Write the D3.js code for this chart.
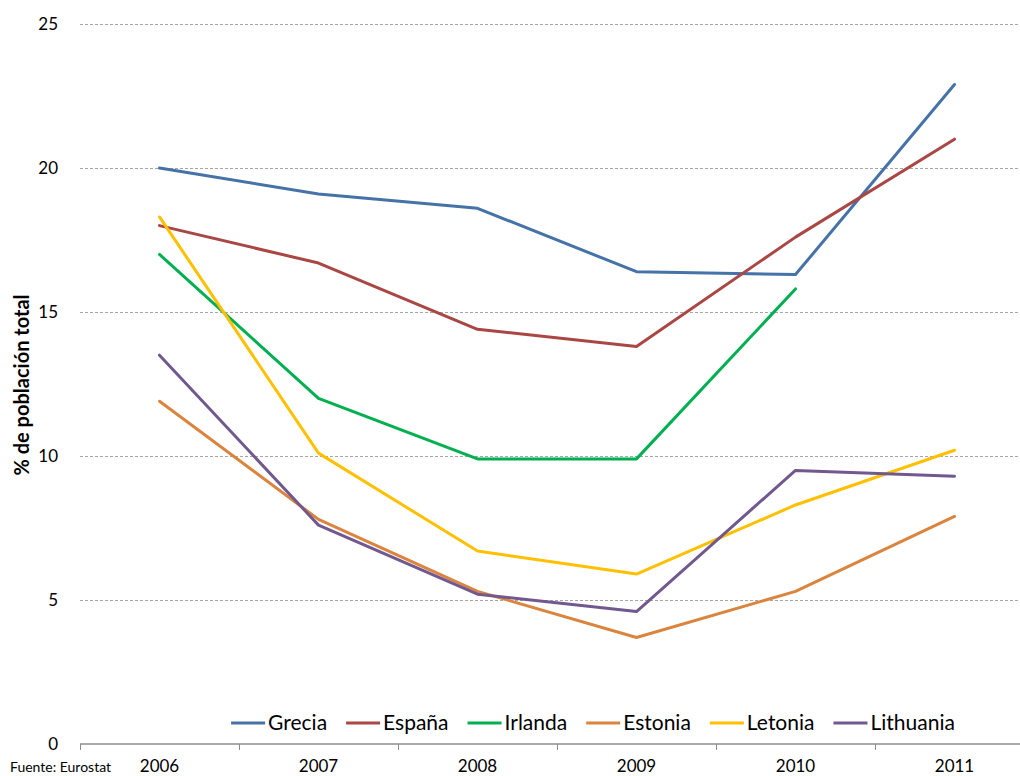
<!DOCTYPE html>
<html lang="es">
<head>
    <meta charset="UTF-8">
    <title>% de población total</title>
    <script src="https://d3js.org/d3.v7.min.js"></script>
    <style>
        body { margin: 0; background: white; font-family: Lato, "Open Sans", sans-serif; }
        svg text { fill: #000; }
    </style>
</head>
<body>
    <div id="chart"></div>
    <script>
        // Data
        const years = ["2006", "2007", "2008", "2009", "2010", "2011"];
        const countries = ["Grecia", "España", "Irlanda", "Estonia", "Letonia", "Lithuania"];
        const grecia    = [20.0, 19.1, 18.6, 16.4, 16.3, 22.9];
        const espana    = [18.0, 16.7, 14.4, 13.8, 17.6, 21.0];
        const irlanda   = [17.0, 12.0, 9.9, 9.9, 15.8, null];
        const estonia   = [11.9, 7.8, 5.3, 3.7, 5.3, 7.9];
        const letonia   = [18.3, 10.1, 6.7, 5.9, 8.3, 10.2];
        const lithuania = [13.5, 7.6, 5.2, 4.6, 9.5, 9.3];
        const yTicks = [0, 5, 10, 15, 20, 25];
        const colors = ["#4572A7", "#AA4643", "#00B050", "#DB843D", "#FFC000", "#71588F"];

        const series = [grecia, espana, irlanda, estonia, letonia, lithuania]
            .map((values, i) => ({ name: countries[i], color: colors[i], values }));

        // Configuration
        const width = 1020, height = 776;
        const svg = d3.select("#chart").append("svg")
            .attr("width", width)
            .attr("height", height);

        const x = d3.scaleBand()
            .domain(years)
            .range([80, 80 + 159 * years.length]);

        const y = d3.scaleLinear()
            .domain([0, 25])
            .range([744, 24]);

        // Gridlines
        svg.append("g")
            .selectAll("line")
            .data(yTicks.filter(d => d > 0))
            .enter().append("line")
            .attr("x1", 80).attr("x2", width)
            .attr("y1", d => y(d) + 0.5).attr("y2", d => y(d) + 0.5)
            .attr("stroke", "#a6a6a6")
            .attr("stroke-dasharray", "3,2");

        // Y axis labels
        const yAxis = svg.append("g")
            .attr("transform", "translate(60,0)")
            .call(d3.axisLeft(y).tickValues(yTicks).tickSize(0).tickPadding(2));
        yAxis.select(".domain").remove();
        yAxis.selectAll("text")
            .style("font-size", "17px")
            .style("font-family", "Lato, sans-serif")
            .attr("fill", "#000");

        // X axis
        const xAxis = svg.append("g")
            .attr("transform", "translate(0,744)")
            .call(d3.axisBottom(x).tickSize(0).tickPadding(16));
        xAxis.select(".domain").remove();
        xAxis.selectAll("text")
            .style("font-size", "17px")
            .style("font-family", "Lato, sans-serif")
            .attr("fill", "#000");

        svg.append("line")
            .attr("x1", 80).attr("x2", width)
            .attr("y1", 744).attr("y2", 744)
            .attr("stroke", "#8c8c8c")
            .attr("stroke-width", 1.5);

        svg.append("g")
            .selectAll("line")
            .data(years.map(d => x(d)).concat([x.range()[1]]))
            .enter().append("line")
            .attr("x1", d => d + 0.5).attr("x2", d => d + 0.5)
            .attr("y1", 744).attr("y2", 750)
            .attr("stroke", "#8c8c8c");

        // Lines
        const line = d3.line()
            .defined(d => d !== null)
            .x((d, i) => x(years[i]) + x.bandwidth() / 2)
            .y(d => y(d));

        svg.append("g")
            .selectAll("path")
            .data(series)
            .enter().append("path")
            .attr("d", d => line(d.values))
            .attr("fill", "none")
            .attr("stroke", d => d.color)
            .attr("stroke-width", 3)
            .attr("stroke-linejoin", "round")
            .attr("stroke-linecap", "round");

        // Y axis title
        svg.append("text")
            .attr("transform", "translate(29,385) rotate(-90)")
            .attr("text-anchor", "middle")
            .style("font-size", "20px")
            .style("font-weight", "bold")
            .style("font-family", "Lato, sans-serif")
            .text("% de población total");

        // Source
        svg.append("text")
            .attr("x", 10).attr("y", 772)
            .style("font-size", "14px")
            .style("font-family", "Lato, sans-serif")
            .text("Fuente: Eurostat");

        // Legend
        const legend = svg.append("g").attr("transform", "translate(0,723)");
        let lx = 0;
        series.forEach(s => {
            const item = legend.append("g").attr("transform", `translate(${lx},0)`);
            item.append("line")
                .attr("x1", 0).attr("x2", 34)
                .attr("y1", 0).attr("y2", 0)
                .attr("stroke", s.color)
                .attr("stroke-width", 3);
            const t = item.append("text")
                .attr("x", 37).attr("y", 7)
                .style("font-size", "21px")
                .style("font-family", "Lato, sans-serif")
                .text(s.name);
            lx += 37 + t.node().getComputedTextLength() + 19;
        });
        const legendWidth = lx - 19;
        legend.attr("transform", `translate(${593 - legendWidth / 2},723)`);
    </script>
</body>
</html>
